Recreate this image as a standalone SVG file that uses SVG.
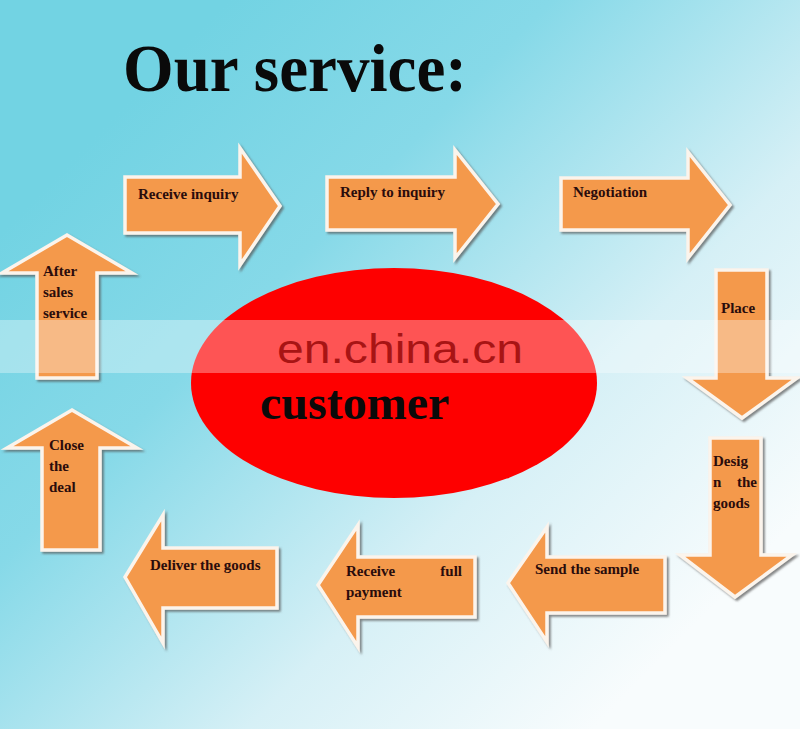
<svg xmlns="http://www.w3.org/2000/svg" width="800" height="729" viewBox="0 0 800 729">
<defs>
<linearGradient id="bg" gradientUnits="userSpaceOnUse" x1="150" y1="80" x2="700" y2="620">
<stop offset="0" stop-color="#72d3e3"/>
<stop offset="0.3" stop-color="#86d9e8"/>
<stop offset="0.68" stop-color="#d6f0f6"/>
<stop offset="1" stop-color="#f8fcfd"/>
</linearGradient>
<filter id="sh" x="-20%" y="-20%" width="140%" height="140%">
<feDropShadow dx="2" dy="2" stdDeviation="0.8" flood-color="#555" flood-opacity="0.7"/>
</filter>
<style>
.arr{fill:#f4994c;stroke:#fbf4ec;stroke-width:3.5;stroke-linejoin:miter;filter:url(#sh)}
.lbl{font-family:"Liberation Serif","Times New Roman",serif;font-weight:bold;font-size:15px;fill:#2a0c0c}
.title{font-family:"Liberation Serif","Times New Roman",serif;font-weight:bold;font-size:68px;fill:#0a0a0a}
.cust{font-family:"Liberation Serif","Times New Roman",serif;font-weight:bold;font-size:48px;fill:#0a0a0a}
.wm{font-family:"Liberation Sans",Arial,sans-serif;font-size:40px;fill:#a81414}
</style>
</defs>
<rect width="800" height="729" fill="url(#bg)"/>
<text class="title" x="123" y="91" textLength="344" lengthAdjust="spacingAndGlyphs">Our service:</text>
<g id="customer">
<ellipse cx="394" cy="383" rx="203" ry="115" fill="#fe0000"/>
<text class="cust" x="260" y="419">customer</text>
</g>
<g id="connectors"></g>
<g id="receive-inquiry">
<polygon class="arr" points="125,177 240,177 240,148 280,206 240,265 240,233 125,233"/>
<text class="lbl" x="138" y="199">Receive inquiry</text>
</g>
<g id="reply-inquiry">
<polygon class="arr" points="327,177 455,177 455,150 498,204 455,258 455,230 327,230"/>
<text class="lbl" x="340" y="197">Reply to inquiry</text>
</g>
<g id="negotiation">
<polygon class="arr" points="561,178 688,178 688,152 730,205 688,258 688,230 561,230"/>
<text class="lbl" x="573" y="197">Negotiation</text>
</g>
<g id="place">
<polygon class="arr" points="716,270 767,270 767,378 797,378 742,418 687,378 716,378"/>
<text class="lbl" x="721" y="313">Place</text>
</g>
<g id="design">
<polygon class="arr" points="710,438 761,438 761,555 792,555 735,597 680,555 710,555"/>
<text class="lbl" x="713" y="466">Desig</text>
<text class="lbl" x="713" y="487">n</text>
<text class="lbl" x="757" y="487" text-anchor="end">the</text>
<text class="lbl" x="713" y="508">goods</text>
</g>
<g id="send-sample">
<polygon class="arr" points="665,557 665,613 547,613 547,642 508,583 547,527 547,557"/>
<text class="lbl" x="535" y="574">Send the sample</text>
</g>
<g id="receive-payment">
<polygon class="arr" points="475,557 475,617 358,617 358,647 318,585 358,525 358,557"/>
<text class="lbl" x="346" y="576">Receive</text>
<text class="lbl" x="462" y="576" text-anchor="end">full</text>
<text class="lbl" x="346" y="597">payment</text>
</g>
<g id="deliver">
<polygon class="arr" points="277,548 277,608 163,608 163,643 125,577 163,515 163,548"/>
<text class="lbl" x="150" y="570">Deliver the goods</text>
</g>
<g id="close-deal">
<polygon class="arr" points="42,550 100,550 100,448 137,448 72,410 7,448 42,448"/>
<text class="lbl" x="49" y="450">Close</text>
<text class="lbl" x="49" y="471">the</text>
<text class="lbl" x="49" y="492">deal</text>
</g>
<g id="after-sales">
<polygon class="arr" points="37,378 97,378 97,273 132,273 67,235 2,273 37,273"/>
<text class="lbl" x="43" y="276">After</text>
<text class="lbl" x="43" y="297">sales</text>
<text class="lbl" x="43" y="318">service</text>
</g>
<g id="watermark">
<rect x="0" y="320" width="800" height="53" fill="#ffffff" opacity="0.33"/>
<text class="wm" x="277" y="363" textLength="246" lengthAdjust="spacingAndGlyphs">en.china.cn</text>
</g>
</svg>
